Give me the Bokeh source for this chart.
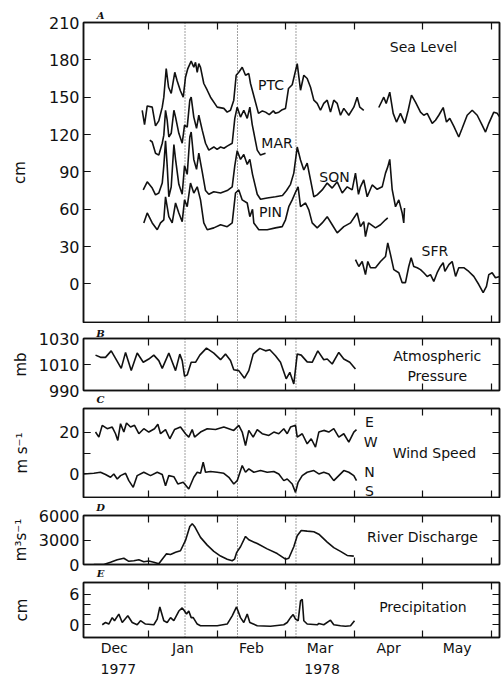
from bokeh.plotting import figure
from bokeh.layouts import column
from bokeh.models import Range1d, LinearAxis, FixedTicker, Span, Label
from bokeh.embed import file_html
from bokeh.resources import INLINE

NaN = float("nan")

# time axis in month units: 0 = 1 Dec 1977, 1 = 1 Jan 1978, ... 6 = 1 Jun 1978
month_names = ["Dec", "Jan", "Feb", "Mar", "Apr", "May"]
month_mids = [0.5, 1.5, 2.5, 3.5, 4.5, 5.5]
month_starts = [0, 1, 2, 3, 4, 5, 6]
year_names = ["1977", "1978"]
year_pos = [0.56, 3.53]
event_times = [1.532, 2.297, 3.150]
panel_letters = ["A", "B", "C", "D", "E"]
letter_pos = 0.30

# ---- A: sea level (cm) ----
ptc = [(0.908, 139.5), (0.942, 128), (0.981, 143), (1.054, 142), (1.102, 127), (1.150, 131),
       (1.200, 142), (1.223, 150), (1.258, 173), (1.292, 158), (1.331, 153), (1.383, 170),
       (1.418, 163), (1.466, 155), (1.506, 150), (1.539, 166), (1.573, 173), (1.622, 179),
       (1.660, 174), (1.685, 178), (1.710, 170), (1.733, 177), (1.758, 174), (1.806, 161),
       (1.856, 155.6), (1.904, 150), (2.001, 142), (2.098, 141), (2.147, 138), (2.195, 139.5),
       (2.243, 147.6), (2.278, 167.6), (2.316, 170), (2.366, 174), (2.414, 167.6), (2.462, 169),
       (2.487, 161), (2.603, 137), (2.66, 139), (2.706, 138), (2.76, 136), (2.82, 139),
       (2.851, 137), (2.90, 138), (2.95, 140), (2.997, 141), (3.041, 157), (3.095, 160),
       (3.168, 177), (3.216, 155.6), (3.264, 167.6), (3.313, 165), (3.362, 158), (3.410, 147.6),
       (3.459, 145), (3.507, 139.5), (3.555, 145), (3.605, 147.6), (3.653, 138), (3.701, 147.6),
       (3.751, 145), (3.799, 135.5), (3.847, 141), (3.920, 135.5), (3.993, 142), (4.042, 150),
       (4.080, 142), (4.138, 139.5), (4.25, NaN), (4.357, 141.7), (4.430, 150), (4.465, 145),
       (4.517, 154), (4.567, 137), (4.615, 130), (4.673, 137), (4.736, 129), (4.786, 139.5),
       (4.834, 151.6), (4.892, 146), (4.965, 138), (5.013, 135.5), (5.063, 137), (5.136, 129),
       (5.184, 131.5), (5.232, 135.5), (5.296, 141.7), (5.344, 130), (5.392, 133), (5.450, 126.7),
       (5.523, 118), (5.573, 125), (5.646, 135.5), (5.719, 139.5), (5.792, 135.5), (5.864, 127.5),
       (5.913, 122), (5.961, 129), (6.034, 138), (6.083, 137), (6.121, 134)]

mar = [(1.019, 115.5), (1.054, 114), (1.102, 105), (1.150, 103.5), (1.200, 113), (1.223, 119.5),
       (1.248, 139.5), (1.272, 131.5), (1.296, 118), (1.331, 121), (1.370, 139.5), (1.394, 134),
       (1.442, 121), (1.491, 113), (1.525, 127.5), (1.564, 126), (1.602, 147.6), (1.622, 150),
       (1.660, 134), (1.700, 125), (1.733, 135.5), (1.783, 123.5), (1.831, 113), (1.879, 107.5),
       (1.952, 110), (2.00, 108), (2.050, 110), (2.10, 109), (2.147, 110.7), (2.220, 113),
       (2.258, 133), (2.293, 142), (2.341, 134), (2.389, 139.5), (2.439, 133), (2.477, 142),
       (2.512, 128), (2.585, 107.5), (2.633, 103.5), (2.706, 105)]

son = [(0.923, 75.5), (0.981, 82), (1.054, 77), (1.102, 71.5), (1.150, 73), (1.200, 81),
       (1.223, 95), (1.248, 115), (1.272, 95), (1.296, 70), (1.331, 78), (1.370, 112),
       (1.394, 100), (1.442, 80), (1.491, 72), (1.525, 95), (1.564, 88), (1.602, 118),
       (1.622, 122), (1.660, 100), (1.700, 92), (1.733, 105), (1.783, 90), (1.831, 75),
       (1.879, 72), (1.952, 74), (2.050, 73), (2.147, 75), (2.220, 78), (2.258, 95),
       (2.293, 107), (2.341, 100), (2.389, 104), (2.439, 96), (2.477, 100), (2.516, 88),
       (2.585, 72), (2.633, 68), (2.730, 69), (2.851, 70), (2.953, 71), (3.012, 75),
       (3.070, 80), (3.118, 89), (3.168, 110), (3.216, 99.5), (3.264, 91.5), (3.313, 97),
       (3.362, 83.5), (3.410, 70), (3.459, 71.5), (3.532, 75.5), (3.605, 81), (3.678, 77),
       (3.751, 82), (3.824, 73), (3.897, 78), (3.969, 75.5), (4.017, 89), (4.061, 72),
       (4.090, 78), (4.138, 83.5), (4.188, 70), (4.261, 79.5), (4.334, 76), (4.407, 78),
       (4.455, 89), (4.488, 94), (4.517, 100), (4.552, 76), (4.601, 62), (4.649, 67.5),
       (4.698, 57), (4.721, 49), (4.732, 61)]

pin = [(0.931, 49), (0.981, 57), (1.054, 49), (1.127, 43.5), (1.175, 49), (1.223, 51.5),
       (1.248, 70), (1.296, 54), (1.345, 49), (1.394, 65), (1.442, 57), (1.491, 50),
       (1.525, 67.5), (1.564, 62), (1.612, 81), (1.660, 73), (1.710, 78), (1.758, 67.5),
       (1.806, 49), (1.856, 43.5), (1.952, 45), (2.050, 47.5), (2.147, 46), (2.220, 49),
       (2.268, 73), (2.316, 75.5), (2.366, 67.5), (2.439, 65), (2.477, 54), (2.516, 60),
       (2.535, 49), (2.608, 43.5), (2.730, 43.5), (2.851, 45), (2.949, 46), (2.997, 51.5),
       (3.045, 62), (3.095, 67.5), (3.146, 74), (3.181, 78), (3.216, 62), (3.289, 65),
       (3.337, 59.5), (3.386, 49), (3.459, 45), (3.532, 49), (3.605, 54), (3.678, 47.5),
       (3.751, 41), (3.847, 46), (3.945, 49), (4.042, 57), (4.090, 46), (4.138, 50),
       (4.163, 38), (4.207, 49), (4.309, 45), (4.382, 47.5), (4.455, 51.5), (4.488, 53)]

sfr = [(4.017, 19.5), (4.066, 14), (4.115, 18), (4.163, 7.5), (4.197, 18), (4.236, 13),
       (4.309, 13), (4.382, 18), (4.455, 22), (4.488, 33), (4.528, 23.5), (4.576, 11.5),
       (4.649, 9), (4.698, 1), (4.746, 1), (4.794, 14), (4.829, 21), (4.867, 14),
       (4.917, 13), (4.965, 11.5), (5.013, 9), (5.063, 6), (5.111, 7.5), (5.159, 2),
       (5.208, 9), (5.256, 14), (5.296, 17), (5.321, 10), (5.379, 15.5), (5.427, 18),
       (5.477, 6), (5.523, 13), (5.596, 13), (5.669, 10), (5.742, 6), (5.815, -0.5),
       (5.879, -7), (5.927, -2), (5.961, 7.5), (6.010, 9), (6.058, 5), (6.121, 6)]

# ---- B: atmospheric pressure (mb) ----
pressure = [(0.227, 1017.2), (0.300, 1015.5), (0.373, 1015.5), (0.456, 1020.5), (0.519, 1014.7),
            (0.602, 1007), (0.665, 1019.3), (0.748, 1005.3), (0.835, 1018.8), (0.923, 1011.7),
            (1.004, 1014.2), (1.077, 1017.2), (1.150, 1013), (1.200, 1007), (1.296, 1018.8),
            (1.394, 1005.3), (1.456, 1018), (1.491, 1013), (1.525, 1001), (1.564, 1002),
            (1.622, 1011.7), (1.685, 1011.7), (1.748, 1017.2), (1.845, 1022.6), (1.952, 1018.8),
            (2.050, 1013.7), (2.122, 1018), (2.195, 1013), (2.243, 1006), (2.316, 1005.3),
            (2.399, 999.5), (2.462, 1005.3), (2.526, 1018), (2.622, 1022.4), (2.706, 1020.5),
            (2.768, 1021.3), (2.851, 1016.7), (2.924, 1011.7), (3.007, 999), (3.060, 1004),
            (3.118, 995), (3.168, 1018), (3.226, 1017.2), (3.313, 1012), (3.386, 1011.7),
            (3.468, 1020.5), (3.555, 1013.7), (3.605, 1014.2), (3.678, 1010.4), (3.774, 1019.3),
            (3.847, 1014.2), (3.934, 1011.7), (4.017, 1006.6)]

# ---- C: wind speed (m/s), east-west and north-south components ----
wind_ew = [(0.227, 20), (0.276, 17.6), (0.325, 23.2), (0.398, 21.6), (0.471, 22.4), (0.519, 19.2),
           (0.552, 16), (0.592, 24), (0.640, 20), (0.679, 24.3), (0.738, 22.4), (0.796, 23.2),
           (0.859, 19.2), (0.931, 21.6), (1.004, 20), (1.087, 21.6), (1.136, 23.7), (1.175, 19.2),
           (1.248, 21.2), (1.310, 16.8), (1.379, 21.2), (1.466, 22.4), (1.539, 19.2), (1.587, 17.6),
           (1.637, 21.2), (1.671, 17.6), (1.758, 20), (1.856, 21.6), (1.977, 21.2), (2.098, 22.4),
           (2.243, 20.8), (2.316, 23.2), (2.366, 20), (2.414, 13.6), (2.462, 20.8), (2.526, 17.6),
           (2.585, 21.2), (2.657, 19.2), (2.754, 18.4), (2.827, 20), (2.899, 19.2), (2.972, 21.6),
           (3.022, 19.2), (3.070, 22.4), (3.143, 23.2), (3.168, 17.6), (3.241, 19.2), (3.313, 14.4),
           (3.372, 16.8), (3.434, 12.8), (3.483, 20), (3.555, 20.8), (3.628, 20), (3.701, 21.6),
           (3.774, 17.6), (3.847, 19.2), (3.920, 15.2), (3.993, 20), (4.032, 21.2)]

wind_ns = [(0.057, 0), (0.203, 0.3), (0.300, 0.8), (0.373, -0.3), (0.446, -1.6), (0.494, 0),
           (0.544, -2.4), (0.592, -0.8), (0.665, 0.3), (0.713, -3.2), (0.777, -6.4), (0.835, -0.8),
           (0.931, 0.8), (1.029, -0.8), (1.127, 0.8), (1.200, -0.3), (1.248, -5.6), (1.296, -0.8),
           (1.369, -1.3), (1.427, -4.8), (1.506, -4), (1.587, -7.2), (1.660, -1.6), (1.710, 0.8),
           (1.758, 0.3), (1.797, 5.6), (1.831, 0.8), (1.904, 1.2), (2.001, 0.8), (2.098, 0.3),
           (2.171, -1.6), (2.243, -4.8), (2.293, -3.2), (2.366, 4), (2.414, 0.8), (2.462, 2.4),
           (2.535, 0.8), (2.633, 1.6), (2.730, 0.8), (2.827, 1.2), (2.899, 0), (2.972, -3.2),
           (3.022, -2.4), (3.095, -4.8), (3.143, -8.8), (3.181, -4), (3.241, -0.8), (3.313, 0.8),
           (3.410, 1.6), (3.483, 0), (3.555, 0.8), (3.628, 0), (3.701, -3.2), (3.774, -0.8),
           (3.847, 1.6), (3.920, 0.8), (3.993, -0.8), (4.032, -3.2)]

# ---- D: river discharge (m3/s) ----
discharge = [(0.203, 0), (0.348, 0), (0.446, 275), (0.544, 573), (0.640, 767), (0.713, 390),
             (0.786, 458), (0.859, 573), (0.931, 344), (1.004, 424), (1.077, 275), (1.150, 80),
             (1.200, 653), (1.262, 1305), (1.321, 1225), (1.394, 1489), (1.466, 1683), (1.539, 2943),
             (1.602, 4660), (1.637, 5000), (1.671, 4660), (1.758, 3320), (1.856, 2370), (1.952, 1603),
             (2.050, 1030), (2.147, 653), (2.220, 458), (2.254, 653), (2.286, 1489), (2.341, 2176),
             (2.414, 3435), (2.462, 3023), (2.585, 2565), (2.730, 1912), (2.876, 1340), (2.997, 653),
             (3.045, 767), (3.118, 2176), (3.168, 3515), (3.226, 4168), (3.313, 4088), (3.410, 4007),
             (3.483, 3710), (3.605, 2748), (3.701, 2061), (3.799, 1603), (3.896, 1111), (3.993, 1030)]

# ---- E: precipitation (cm) ----
precip = [(0.325, 0), (0.373, 0.45), (0.421, 0.14), (0.471, 1.4), (0.504, 0.8), (0.567, 2.1),
          (0.617, 0.45), (0.698, 1.76), (0.762, 0.45), (0.835, 0), (0.883, 0.8), (0.956, 0.14),
          (1.077, 0), (1.127, 1.1), (1.165, 3.5), (1.223, 0.8), (1.272, 0.45), (1.321, 1.4),
          (1.369, 0.8), (1.442, 2.7), (1.491, 3.3), (1.525, 2.7), (1.554, 2.1), (1.587, 2.7),
          (1.622, 1.4), (1.652, 1.4), (1.710, 0.14), (1.758, -0.2), (2.001, -0.2), (2.147, 0.14),
          (2.220, 1.76), (2.283, 3.5), (2.341, 1.4), (2.389, 0.45), (2.439, 2.1), (2.477, 0.45),
          (2.585, -0.2), (2.778, -0.3), (2.972, 0), (3.022, 0.45), (3.070, 1.4), (3.109, 2),
          (3.143, 1.1), (3.182, 0.8), (3.216, 4.7), (3.241, 5), (3.264, 0.8), (3.313, 0.14),
          (3.459, 0), (3.483, 0.25), (3.555, 0), (3.653, 0.9), (3.701, 0), (3.799, -0.2),
          (3.872, -0.3), (3.945, -0.2), (4.003, 0.8)]

X0, X1 = 0.052, 6.117
FONT = "DejaVu Sans"
INK = "#111111"
LW = 1.6


def split(pairs):
    return [a for a, _ in pairs], [b for _, b in pairs]


def style_line(ax):
    ax.axis_line_color = INK
    ax.axis_line_width = 1.5
    ax.major_tick_line_color = INK
    ax.major_tick_line_width = 1.2
    ax.minor_tick_line_color = INK
    ax.minor_tick_line_width = 1.2
    ax.major_tick_out = 0
    ax.minor_tick_out = 0
    ax.minor_tick_in = 7


def time_axis(mids=None, names=None, font=FONT, size="14px", style="normal", standoff=2):
    ax = LinearAxis(ticker=FixedTicker(ticks=mids or [], minor_ticks=month_starts))
    style_line(ax)
    ax.major_tick_in = 0
    if mids:
        ax.major_label_overrides = {m: n for m, n in zip(mids, names)}
        ax.major_label_text_font = font
        ax.major_label_text_font_size = size
        ax.major_label_text_font_style = style
        ax.major_label_text_color = INK
        ax.major_label_standoff = standoff
    return ax


def letter_axis(letter, standoff):
    return time_axis([letter_pos], [letter], font="DejaVu Serif", size="10px",
                     style="bold italic", standoff=standoff)


def value_axis(ticks, labels, title, standoff, minor):
    ax = LinearAxis(ticker=FixedTicker(ticks=ticks, minor_ticks=minor))
    style_line(ax)
    ax.major_tick_in = 7
    ax.major_label_overrides = {t: s for t, s in zip(ticks, labels)}
    ax.major_label_text_font = FONT
    ax.major_label_text_font_size = "16px"
    ax.major_label_text_color = INK
    ax.major_label_standoff = 4
    ax.axis_label = title
    ax.axis_label_text_font = FONT
    ax.axis_label_text_font_size = "15px"
    ax.axis_label_text_font_style = "normal"
    ax.axis_label_text_color = INK
    ax.axis_label_standoff = standoff
    return ax


def panel(height, top, bottom, yr, ticks, labels, minor, title, standoff,
          top_letter=None, top_standoff=0, bottom_letter=None, bottom_standoff=3, months=False):
    p = figure(width=501, height=height, x_range=Range1d(X0, X1), y_range=Range1d(*yr),
               output_backend="svg", toolbar_location=None,
               x_axis_location=None, y_axis_location=None,
               min_border_left=83, min_border_right=2,
               min_border_top=top, min_border_bottom=bottom)
    p.grid.visible = False
    p.outline_line_color = INK
    p.outline_line_width = 1.5
    p.background_fill_color = "white"
    p.border_fill_color = "white"
    p.add_layout(value_axis(ticks, labels, title, standoff, minor), "left")
    right = LinearAxis(ticker=FixedTicker(ticks=[], minor_ticks=minor))
    style_line(right)
    p.add_layout(right, "right")
    if top_letter:
        p.add_layout(letter_axis(top_letter, top_standoff), "above")
    else:
        p.add_layout(time_axis(), "above")
    if months:
        p.add_layout(time_axis(month_mids, month_names, standoff=2), "below")
        yax = LinearAxis(ticker=FixedTicker(ticks=year_pos))
        yax.axis_line_color = None
        yax.major_tick_in = 0
        yax.major_tick_out = 0
        yax.major_label_overrides = {m: n for m, n in zip(year_pos, year_names)}
        yax.major_label_text_font = FONT
        yax.major_label_text_font_size = "14px"
        yax.major_label_text_color = INK
        yax.major_label_standoff = 5
        p.add_layout(yax, "below")
    elif bottom_letter:
        p.add_layout(letter_axis(bottom_letter, bottom_standoff), "below")
    else:
        p.add_layout(time_axis(), "below")
    for t in event_times:
        p.add_layout(Span(location=t, dimension="height", line_color=INK,
                          line_dash="1 2", line_width=0.8))
    return p


def note(p, x, y, text, size="14px"):
    p.add_layout(Label(x=x, y=y, text=text, text_font=FONT, text_font_size=size,
                       text_align="center", text_baseline="middle", text_color=INK))


# Panel A
pa = panel(323, 22, 1, (-31, 210), [0, 30, 60, 90, 120, 150, 180, 210],
           ["0", "30", "60", "90", "120", "150", "180", "210"],
           [0, 30, 60, 90, 120, 150, 180, 210], "cm", 17,
           top_letter=panel_letters[0], top_standoff=2)
for series in (ptc, mar, son, pin, sfr):
    xs, ys = split(series)
    pa.line(xs, ys, line_color=INK, line_width=LW)
note(pa, 5.009, 190, "Sea Level")
note(pa, 2.786, 159.5, "PTC")
note(pa, 2.873, 113, "MAR")
note(pa, 3.711, 86, "SON")
note(pa, 2.778, 58, "PIN")
note(pa, 5.176, 26.7, "SFR")

# Panel B (also carries the letter of panel C below it)
pb = panel(84, 15, 15, (990, 1030), [990, 1010, 1030], ["990", "1010", "1030"],
           [990, 1010, 1030], "mb", 6, top_letter=panel_letters[1], top_standoff=0,
           bottom_letter=panel_letters[2], bottom_standoff=3)
xs, ys = split(pressure)
pb.line(xs, ys, line_color=INK, line_width=LW)
note(pb, 5.21, 1016.5, "Atmospheric")
note(pb, 5.21, 1001.2, "Pressure")

# Panel C
pc = panel(91, 1, 1, (-11.25, 31.25), [0, 20], ["0", "20"], [0, 10, 20],
           "m s\u207b\u00b9", 25)
for series in (wind_ew, wind_ns):
    xs, ys = split(series)
    pc.line(xs, ys, line_color=INK, line_width=LW)
note(pc, 4.22, 24.8, "E")
note(pc, 4.24, 15.2, "W")
note(pc, 5.168, 9.9, "Wind Speed")
note(pc, 4.22, 0.8, "N")
note(pc, 4.22, -8.0, "S")

# Panel D (also carries the letter of panel E below it)
pd_ = panel(83, 15, 15, (0, 6000), [0, 3000, 6000], ["0", "3000", "6000"], [0, 3000, 6000],
            "m\u00b3s\u207b\u00b9", 6, top_letter=panel_letters[3], top_standoff=3,
            bottom_letter=panel_letters[4], bottom_standoff=3)
xs, ys = split(discharge)
pd_.line(xs, ys, line_color=INK, line_width=LW)
note(pd_, 4.994, 3320, "River Discharge")

# Panel E
pe = panel(97, 1, 41, (-2.5, 8.3), [0, 6], ["0", "6"], [0, 2, 4, 6], "cm", 35, months=True)
xs, ys = split(precip)
pe.line(xs, ys, line_color=INK, line_width=LW)
note(pe, 5.0, 3.5, "Precipitation")

layout = column(pa, pb, pc, pd_, pe, spacing=0)
open("out.html", "w").write(file_html(layout, INLINE))
